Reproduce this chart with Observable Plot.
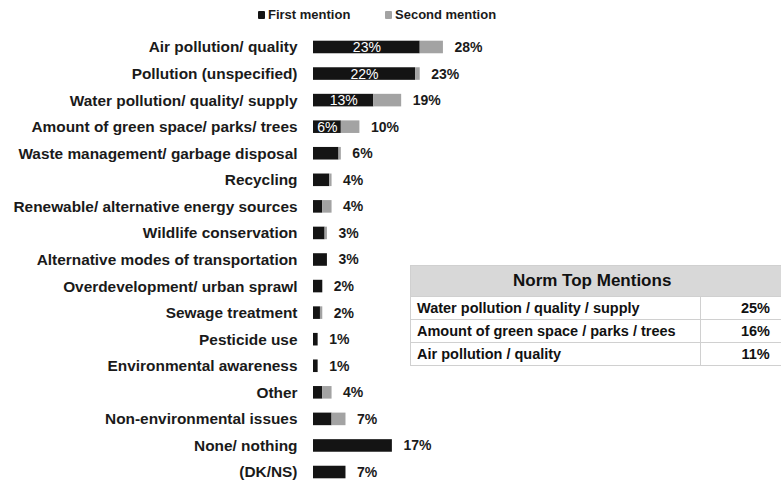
<!DOCTYPE html>
<html><head><meta charset="utf-8">
<script src="https://cdn.jsdelivr.net/npm/d3@7"></script>
<script src="https://cdn.jsdelivr.net/npm/@observablehq/plot@0.6"></script>
<style>
html,body{margin:0;padding:0;background:#fff;overflow:hidden;}
body{width:781px;height:483px;position:relative;font-family:"Liberation Sans",Arial,sans-serif;}
#legend{position:absolute;left:0;top:7px;width:781px;height:20px;font-weight:bold;font-size:13px;color:#1a1a1a;}
#legend .item{position:absolute;top:0;white-space:nowrap;}
#legend span.sw{display:inline-block;width:7px;height:8px;margin-right:3px;vertical-align:0px;border-radius:1px;}
#chart{position:absolute;left:0;top:0;}
#tbl{position:absolute;left:410px;top:265px;width:400px;border-collapse:collapse;font-weight:bold;font-size:14.5px;color:#111;table-layout:fixed;}
#tbl th{background:#d8d8d8;height:30px;font-size:17px;border:1px solid #d0d0d0;padding:0;}
#tbl td{height:22px;border:1px solid #d0d0d0;padding:0 0 0 6px;white-space:nowrap;}
#tbl td.v{text-align:center;padding:0;}
</style></head>
<body>
<div id="chart"></div>
<div id="legend"></div>
<table id="tbl"></table>
<script>
const categories = ["Air pollution/ quality","Pollution (unspecified)","Water pollution/ quality/ supply","Amount of green space/ parks/ trees","Waste management/ garbage disposal","Recycling","Renewable/ alternative energy sources","Wildlife conservation","Alternative modes of transportation","Overdevelopment/ urban sprawl","Sewage treatment","Pesticide use","Environmental awareness","Other","Non-environmental issues","None/ nothing","(DK/NS)"];
const firstMention  = [23, 22, 13, 6, 5.5, 3.5, 2, 2.5, 3, 2, 1.5, 1, 1, 2, 4, 17, 7];
const secondMention = [5, 1, 6, 4, 0.5, 0.5, 2, 0.5, 0, 0, 0.5, 0, 0, 2, 3, 0, 0];
const totals        = [28, 23, 19, 10, 6, 4, 4, 3, 3, 2, 2, 1, 1, 4, 7, 17, 7];
const innerLabels   = ["23%","22%","13%","6%","","","","","","","","","","","","",""];
const seriesNames = ["First mention","Second mention"];
const seriesColors = ["#141414","#a3a3a3"];
const normTitle = "Norm Top Mentions";
const normItems = ["Water pollution / quality / supply","Amount of green space / parks / trees","Air pollution / quality"];
const normValues = ["25%","16%","11%"];

const rows = [];
categories.forEach((c,i)=>{
  rows.push({cat:c, series:seriesNames[0], v:firstMention[i], idx:0});
  rows.push({cat:c, series:seriesNames[1], v:secondMention[i], idx:1});
});
const totRows = categories.map((c,i)=>({cat:c, t:totals[i], label:totals[i]+"%"}));
const inRows = categories.map((c,i)=>({cat:c, x:firstMention[i]/2, label:innerLabels[i]})).filter(d=>d.label);

const chart = Plot.plot({
  width:781, height:483,
  marginLeft:313, marginRight:4, marginTop:0, marginBottom:0,
  x:{domain:[0,100], axis:null},
  y:{domain:categories, range:[33.7,485.3], padding:0, round:false, axis:null},
  color:{domain:seriesNames, range:seriesColors},
  marks:[
    Plot.barX(rows, Plot.stackX({x:"v", y:"cat", fill:"series", order:"idx", insetTop:7, insetBottom:7})),
    Plot.text(categories, {x:0, y:d=>d, text:d=>d, textAnchor:"end", dx:-16, fontSize:15.4, fontWeight:"bold", fill:"#1a1a1a"}),
    Plot.text(totRows, {x:"t", y:"cat", text:"label", textAnchor:"start", dx:11, fontSize:14, fontWeight:"bold", fill:"#1a1a1a"}),
    Plot.text(inRows, {x:"x", y:"cat", text:"label", fontSize:14, fill:"#ffffff"})
  ]
});
chart.style.fontFamily = '"Liberation Sans", Arial, sans-serif';
document.getElementById("chart").appendChild(chart);

const lg = document.getElementById("legend");
const legendLeft = [258, 385];
lg.innerHTML = seriesNames.map((s,i)=>`<span class="item" style="left:${legendLeft[i]}px"><span class="sw" style="background:${seriesColors[i]}"></span>${s}</span>`).join("");

const tbl = document.getElementById("tbl");
let html = `<colgroup><col style="width:290px"><col style="width:110px"></colgroup><tr><th colspan="2" style="text-align:left;padding-left:102px">${normTitle}</th></tr>`;
normItems.forEach((it,i)=>{ html += `<tr><td>${it}</td><td class="v">${normValues[i]}</td></tr>`; });
tbl.innerHTML = html;
</script>
</body></html>
